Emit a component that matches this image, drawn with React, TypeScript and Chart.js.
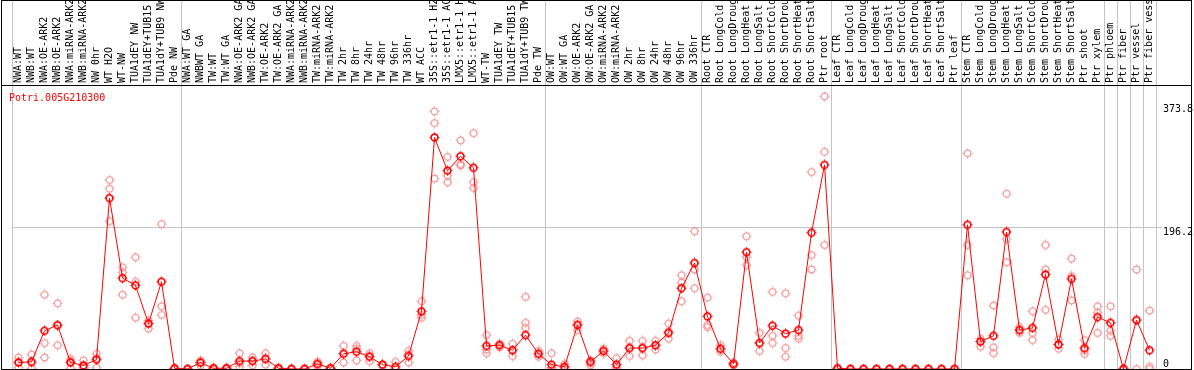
import React, { useEffect, useRef } from 'react';
import { Chart, registerables } from 'chart.js';

Chart.register(...registerables);

const geneId = 'Potri.005G210300';

const categories = [
  'NWA:WT', 'NWB:WT', 'NWA:OE-ARK2', 'NWB:OE-ARK2', 'NWA:miRNA-ARK2', 'NWB:miRNA-ARK2',
  'NW 0hr', 'WT H2O', 'WT-NW', 'TUA1dEY NW', 'TUA1dEY+TUB15 NW', 'TUA1dY+TUB9 NW', 'Pde NW',
  'NWA:WT GA', 'NWBWT GA', 'TW:WT', 'TW:WT GA', 'NWA:OE-ARK2 GA', 'NWB:OE-ARK2 GA',
  'TW:OE-ARK2', 'TW:OE-ARK2 GA', 'NWA:miRNA-ARK2', 'NWB:miRNA-ARK2', 'TW:miRNA-ARK2',
  'TW:miRNA-ARK2', 'TW 2hr', 'TW 8hr', 'TW 24hr', 'TW 48hr', 'TW 96hr', 'TW 336hr', 'WT ACC',
  '35S::etr1-1 H2O', '35S::etr1-1 ACC', 'LMX5::etr1-1 H2O', 'LMX5::etr1-1 ACC', 'WT-TW',
  'TUA1dEY TW', 'TUA1dEY+TUB15 TW', 'TUA1dY+TUB9 TW', 'Pde TW',
  'OW:WT', 'OW:WT GA', 'OW:OE-ARK2', 'OW:OE-ARK2 GA', 'OW:miRNA-ARK2', 'OW:miRNA-ARK2',
  'OW 2hr', 'OW 8hr', 'OW 24hr', 'OW 48hr', 'OW 96hr', 'OW 336hr',
  'Root CTR', 'Root LongCold', 'Root LongDrought', 'Root LongHeat', 'Root LongSalt',
  'Root ShortCold', 'Root ShortDrought', 'Root ShortHeat', 'Root ShortSalt', 'Ptr root',
  'Leaf CTR', 'Leaf LongCold', 'Leaf LongDrought', 'Leaf LongHeat', 'Leaf LongSalt',
  'Leaf ShortCold', 'Leaf ShortDrought', 'Leaf ShortHeat', 'Leaf ShortSalt', 'Ptr leaf',
  'Stem CTR', 'Stem LongCold', 'Stem LongDrought', 'Stem LongHeat', 'Stem LongSalt',
  'Stem ShortCold', 'Stem ShortDrought', 'Stem ShortHeat', 'Stem ShortSalt', 'Ptr shoot',
  'Ptr xylem', 'Ptr phloem', 'Ptr fiber', 'Ptr vessel', 'Ptr fiber vessel',
];

const meanValues = [
  9, 10, 53, 61, 9, 5, 13, 237, 126, 116, 63, 121, 1,
  0, 9, 1, 1, 11, 11, 14, 1, 0, 0, 7, 1, 21, 24, 17, 6, 3, 18, 80,
  321, 275, 295, 279, 32, 33, 26, 47, 21,
  6, 3, 61, 10, 25, 6, 29, 29, 33, 50, 112, 147,
  73, 28, 7, 162, 36, 60, 49, 54, 189, 283,
  1, 0, 0, 0, 0, 0, 0, 0, 0, 0,
  200, 38, 46, 190, 54, 57, 131, 34, 125, 29,
  72, 64, 0, 68, 26,
];

const rep1 = [
  16, 20, 103, 91, 14, 12, 21, 262, 141, 155, 67, 201, 1,
  0, 12, 2, 2, 22, 16, 22, 2, 1, 1, 10, 2, 32, 32, 22, 6, 10, 25, 94,
  357, 294, 317, 327, 47, 35, 35, 100, 25,
  22, 7, 66, 12, 28, 15, 39, 39, 39, 63, 130, 191,
  99, 33, 9, 184, 50, 107, 105, 74, 273, 378,
  1, 0, 0, 0, 0, 0, 0, 0, 0, 0,
  299, 42, 88, 243, 58, 80, 172, 41, 153, 40,
  87, 87, 1, 138, 81,
];

const rep2 = [
  10, 8, 36, 60, 11, 2, 15, 250, 134, 121, 63, 87, 0,
  0, 9, 1, 1, 8, 12, 14, 1, 0, 0, 7, 1, 22, 28, 18, 6, 0, 20, 75,
  341, 268, 284, 259, 27, 34, 26, 64, 21,
  2, 2, 62, 8, 25, 3, 30, 30, 33, 52, 120, 138,
  61, 28, 7, 155, 36, 46, 29, 46, 158, 301,
  0, 0, 0, 0, 0, 0, 0, 0, 0, 0,
  172, 38, 30, 180, 54, 50, 138, 34, 129, 26,
  78, 53, 0, 67, 3,
];

const rep3 = [
  2, 1, 16, 33, 1, 1, 2, 205, 103, 71, 56, 75, 0,
  0, 5, 0, 0, 3, 5, 6, 0, 0, 0, 4, 0, 9, 12, 11, 5, 0, 9, 71,
  264, 259, 282, 251, 22, 30, 18, 57, 17,
  0, 0, 54, 5, 22, 0, 18, 19, 27, 42, 94, 112,
  58, 24, 5, 144, 25, 36, 17, 42, 138, 172,
  0, 0, 0, 0, 0, 0, 0, 0, 0, 0,
  130, 31, 22, 148, 50, 40, 82, 28, 95, 21,
  50, 46, 0, 0, 0,
];

const yTickValues = [0, 196.2, 373.8];
const yMax = 392.4;
// grid line index k = boundary just before category k
const separatorLines = [0, 13, 41, 53, 63, 73, 84, 85, 86, 87, 88];

const SEP = '#c4c4c4';
const RED = '#ff0000';
const PINK = '#f29a9a';
const MONO = '"DejaVu Sans Mono", "Liberation Mono", monospace';

function makeMarker(color: string, lw: number) {
  const c = document.createElement('canvas');
  c.width = 11;
  c.height = 11;
  const g = c.getContext('2d')!;
  g.strokeStyle = color;
  g.lineWidth = lw;
  g.beginPath();
  g.arc(5.5, 5.5, 3.4, 0, Math.PI * 2);
  g.stroke();
  g.lineWidth = 1;
  g.beginPath();
  g.moveTo(5.5, 0.5); g.lineTo(5.5, 1.8);
  g.moveTo(5.5, 9.2); g.lineTo(5.5, 10.5);
  g.moveTo(0.5, 5.5); g.lineTo(1.8, 5.5);
  g.moveTo(9.2, 5.5); g.lineTo(10.5, 5.5);
  g.stroke();
  return c;
}

const framePlugin = {
  id: 'frame',
  afterDraw(chart: any) {
    const { ctx, chartArea, width } = chart;
    ctx.save();
    ctx.strokeStyle = '#000';
    ctx.lineWidth = 1;
    ctx.beginPath();
    ctx.moveTo(1.5, 0);
    ctx.lineTo(1.5, chartArea.bottom + 0.5);
    ctx.moveTo(width - 2.5, 0);
    ctx.lineTo(width - 2.5, chartArea.bottom + 0.5);
    ctx.moveTo(1, 0.5);
    ctx.lineTo(width - 2, 0.5);
    ctx.moveTo(1, chartArea.top - 0.5);
    ctx.lineTo(width - 2, chartArea.top - 0.5);
    ctx.moveTo(1, chartArea.bottom + 0.5);
    ctx.lineTo(width - 2, chartArea.bottom + 0.5);
    ctx.stroke();
    ctx.fillStyle = RED;
    ctx.font = '10px ' + MONO;
    ctx.textBaseline = 'alphabetic';
    ctx.textAlign = 'left';
    ctx.fillText(geneId, 9, chartArea.top + 15);
    ctx.restore();
  },
};

export default function App() {
  const ref = useRef<HTMLCanvasElement>(null);

  useEffect(() => {
    document.body.style.margin = '0';
    const meanMarker = makeMarker(RED, 1.6);
    const repMarker = makeMarker(PINK, 1.2);
    const sepColor = (ctx: any) => {
      const i = ctx.index === undefined ? categories.length : ctx.index;
      return separatorLines.includes(i) ? SEP : 'rgba(0,0,0,0)';
    };
    const repDataset = (data: (number | null)[], n: number) => ({
      label: 'rep' + n,
      data,
      showLine: false,
      borderColor: PINK,
      backgroundColor: PINK,
      pointStyle: repMarker,
      pointRadius: 4,
      order: 2,
      clip: false as any,
    });
    const chart = new Chart(ref.current!, {
      type: 'line',
      data: {
        labels: categories,
        datasets: [
          {
            label: 'mean',
            data: meanValues,
            borderColor: RED,
            backgroundColor: RED,
            borderWidth: 1,
            pointStyle: meanMarker,
            pointRadius: 4,
            tension: 0,
            order: 0,
            clip: false as any,
          },
          repDataset(rep1, 1),
          repDataset(rep2, 2),
          repDataset(rep3, 3),
        ],
      },
      options: {
        animation: false,
        responsive: false,
        devicePixelRatio: 1,
        layout: { autoPadding: false, padding: { left: 12, right: 0, top: 0, bottom: 1 } },
        plugins: { legend: { display: false }, tooltip: { enabled: false }, title: { display: false } },
        scales: {
          x: {
            type: 'category',
            position: 'top',
            offset: true,
            afterFit: (s: any) => {
              s.height = 86;
              s.paddingLeft = 0;
              s.paddingRight = 0;
            },
            border: { display: false },
            grid: {
              offset: true,
              color: sepColor,
              tickColor: sepColor,
              drawTicks: true,
              tickLength: 86,
              lineWidth: 1,
            },
            ticks: {
              autoSkip: false,
              minRotation: 90,
              maxRotation: 90,
              padding: -83,
              labelOffset: 10,
              color: '#000',
              font: { family: MONO, size: 10, lineHeight: 1 },
            },
          },
          y: {
            type: 'linear',
            position: 'right',
            min: 0,
            max: yMax,
            afterFit: (s: any) => {
              s.width = 38;
              s.paddingTop = 0;
              s.paddingBottom = 0;
            },
            afterBuildTicks: (s: any) => { s.ticks = yTickValues.map((v) => ({ value: v })); },
            border: { display: false },
            grid: {
              color: (ctx: any) => (ctx.tick && ctx.tick.value === 196.2 ? SEP : 'rgba(0,0,0,0)'),
              tickColor: (ctx: any) => (ctx.tick && ctx.tick.value === 196.2 ? SEP : 'rgba(0,0,0,0)'),
              drawTicks: true,
              tickLength: 6,
            },
            ticks: {
              padding: 1,
              color: '#000',
              font: { family: MONO, size: 10, lineHeight: 1 },
              callback: (v: any) => {
                const s = String(v);
                if (v === 0) return [s, ''];
                if (v === 196.2) return ['', s];
                return ['', '', s];
              },
            },
          },
        },
      },
      plugins: [framePlugin],
    });
    return () => chart.destroy();
  }, []);

  return (
    <div style={{ position: 'absolute', left: 0, top: 0, width: 1194, height: 370 }}>
      <canvas ref={ref} width={1194} height={370} style={{ display: 'block' }} />
    </div>
  );
}
